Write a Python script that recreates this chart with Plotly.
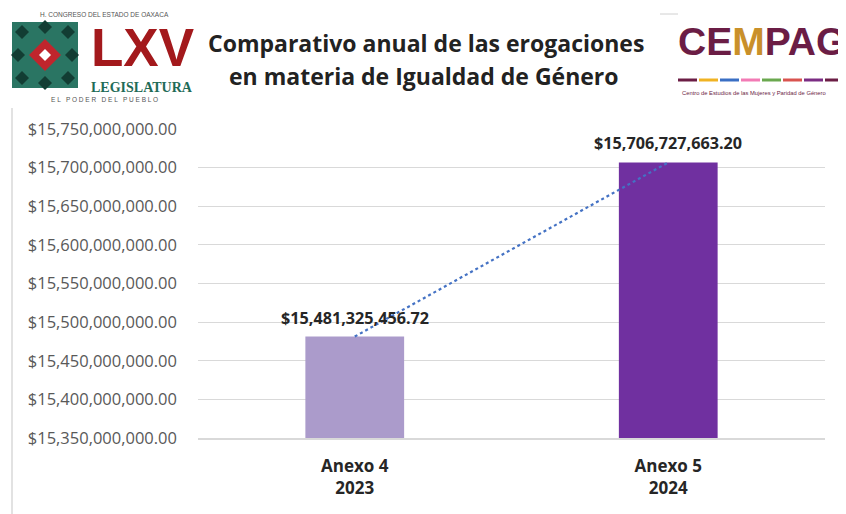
import plotly.graph_objects as go

categories = ["Anexo 4<br>2023", "Anexo 5<br>2024"]
values = [15481325456.72, 15706727663.20]
bar_colors = ["#ab9bcb", "#7030a0"]
y_ticks = [15350000000 + 50000000 * i for i in range(9)]

# page body has an 8px margin; figure sized to fit the 846x514 window
OFF = 8
W, H = 838, 506
L, R, T, B = 190, 21, 121, 76
PW, PH = W - L - R, H - T - B


def px(x):
    return (x - OFF - L) / PW


def py(y):
    return (H - B - (y - OFF)) / PH


fig = go.Figure()
fig.add_trace(go.Bar(x=categories, y=values, marker=dict(color=bar_colors, line=dict(width=0)),
                     width=0.315, hoverinfo="skip", showlegend=False))
fig.add_trace(go.Scatter(x=categories, y=values, mode="lines",
                         line=dict(color="#4472c4", width=2.2, dash="dot"),
                         hoverinfo="skip", showlegend=False))

annotations = []
for c, v in zip(categories, values):
    annotations.append(dict(x=c, y=v, xref="x", yref="y", text="<b>${:,.2f}</b>".format(v),
                            showarrow=False, yshift=19, yanchor="middle", xanchor="center",
                            font=dict(family="Open Sans", size=16.2, color="#262626")))


def txt(x, y, text, size, color, family="Open Sans", xanchor="center"):
    annotations.append(dict(x=px(x), y=py(y), xref="paper", yref="paper", showarrow=False,
                            xanchor=xanchor, yanchor="middle", text=text,
                            font=dict(family=family, size=size, color=color)))


# Title
txt(426, 43, "<b>Comparativo anual de las erogaciones</b>", 23, "#222222")
txt(424, 76, "<b>en materia de Igualdad de Género</b>", 23, "#222222")

# Left logo texts
txt(104, 14, "H. CONGRESO DEL ESTADO DE OAXACA", 6.5, "#555555", "Liberation Sans")
txt(142, 47, "<b>LXV</b>", 53, "#a3191c", "Liberation Sans")
txt(142, 88, "<b>LEGISLATURA</b>", 14, "#1f6b57", "Liberation Serif")
txt(104, 100, "E L   P O D E R   D E L   P U E B L O", 6.5, "#555555", "Liberation Sans")

# Right logo texts
txt(676, 42, "<b>CE<span style='color:#c9902a'>M</span>PAG</b>", 39, "#6b1d45", "Liberation Sans", "left")
txt(680, 93, "Centro de Estudios de las Mujeres y Paridad de Género", 5.8, "#6b1d45", "Liberation Sans", "left")

shapes = []
# Left border line
shapes.append(dict(type="line", xref="paper", yref="paper", x0=px(12), x1=px(12), y0=py(108), y1=py(514),
                   line=dict(color="#d9d9d9", width=1.5)))
# Left logo square
shapes.append(dict(type="rect", xref="paper", yref="paper", x0=px(12), x1=px(78), y0=py(88), y1=py(22),
                   fillcolor="#2a7563", line=dict(width=0)))


def diamond(cx, cy, r, color):
    shapes.append(dict(type="path", xref="paper", yref="paper",
                       path="M {} {} L {} {} L {} {} L {} {} Z".format(px(cx - r), py(cy), px(cx), py(cy - r),
                                                                       px(cx + r), py(cy), px(cx), py(cy + r)),
                       fillcolor=color, line=dict(width=0)))


for (cx, cy) in [(22, 32), (68, 32), (22, 78), (68, 78), (45, 27), (45, 83), (18, 55), (72, 55)]:
    diamond(cx, cy, 7, "#123d33")
diamond(45, 55, 16, "#c0262d")
diamond(45, 55, 6, "#ffffff")

# Top-right small gray line
shapes.append(dict(type="line", xref="paper", yref="paper", x0=px(660), x1=px(678), y0=py(14), y1=py(14),
                   line=dict(color="#d0d0d0", width=1)))
# Colored stripe under CEMPAG
stripe_colors = ["#6b1d45", "#f0b323", "#3a6fc4", "#f27bb5", "#6aa84f", "#d9534f", "#7b2c83", "#6b1d45"]
seg = (846 - 678) / len(stripe_colors)
for i, col in enumerate(stripe_colors):
    shapes.append(dict(type="line", xref="paper", yref="paper", x0=px(678 + i * seg), x1=px(678 + (i + 1) * seg - 2),
                       y0=py(80), y1=py(80), line=dict(color=col, width=3)))

fig.update_layout(
    width=W, height=H,
    margin=dict(l=L, r=R, t=T, b=B),
    paper_bgcolor="white", plot_bgcolor="white",
    annotations=annotations, shapes=shapes,
    xaxis=dict(type="category", showgrid=False, showline=True, linecolor="#d9d9d9", linewidth=1.5,
               ticks="", ticklabelstandoff=12,
               tickfont=dict(family="Open Sans", size=17, color="#262626")),
    yaxis=dict(range=[y_ticks[0], y_ticks[-1]], tickvals=y_ticks, tickformat="$,.2f",
               showgrid=True, gridcolor="#d9d9d9", gridwidth=1, zeroline=False, showline=False,
               ticks="", ticklabelstandoff=20,
               tickfont=dict(family="Open Sans", size=16.5, color="#595959")),
)
fig.update_xaxes(tickvals=categories, ticktext=["<b>" + c + "</b>" for c in categories])

fig.write_html("out.html")
